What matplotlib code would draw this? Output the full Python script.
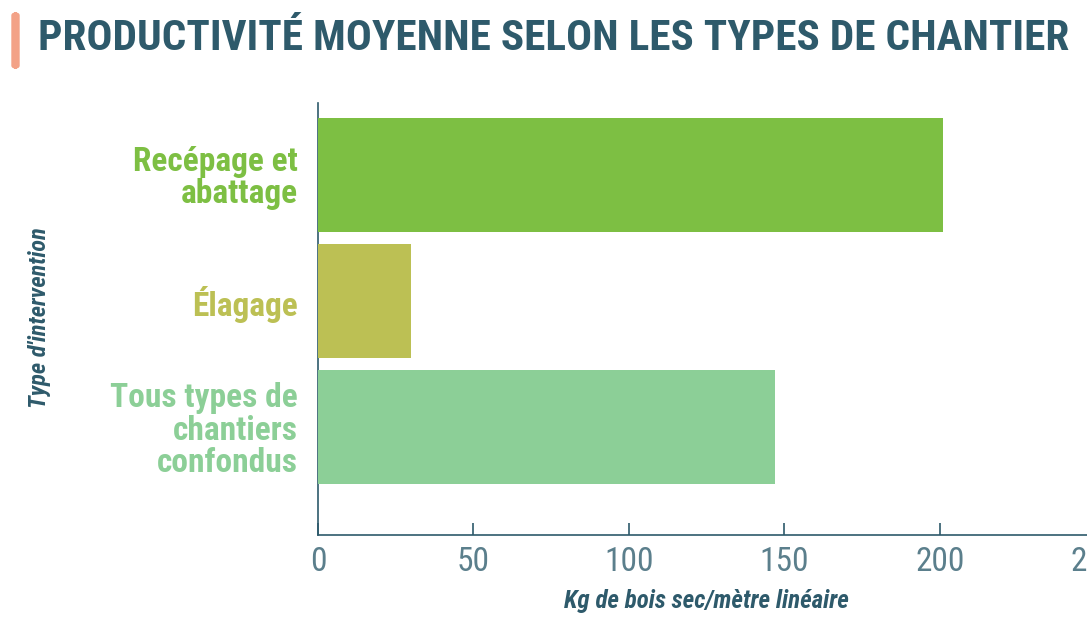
import matplotlib
matplotlib.use("Agg")
import matplotlib.pyplot as plt
from matplotlib import font_manager as fm
from matplotlib.patches import FancyBboxPatch

categories = ["Recépage et\nabattage", "Élagage", "Tous types de\nchantiers\nconfondus"]
values = [201, 30, 147]
colors = ["#7dbf43", "#bcc054", "#8ccf97"]
xticks = [0, 50, 100, 150, 200, 250]

title = "PRODUCTIVITÉ MOYENNE SELON LES TYPES DE CHANTIER"
dark = "#2e5a6b"
tickcol = "#5b7f8c"

# look for a narrow face, fall back to DejaVu condensed stretch
names = {f.name for f in fm.fontManager.ttflist}
narrow_fam = "DejaVu Sans"
for cand in ["Roboto Condensed", "Liberation Sans Narrow", "Open Sans Condensed",
             "Noto Sans Condensed", "DejaVu Sans Condensed", "Noto Sans Display"]:
    if cand in names:
        narrow_fam = cand
        break
font = dict(family=[narrow_fam, "DejaVu Sans"], stretch="condensed")

fig = plt.figure(figsize=(10.87, 6.2), dpi=100)
ax = fig.add_axes([318 / 1087, 1 - 535 / 620, 777.5 / 1087, 432 / 620])

pos = list(range(len(categories)))
ax.barh(pos, values, height=0.9, color=colors, zorder=3)
ax.set_ylim(2.857, -0.571)
ax.set_xlim(0, 250)

ax.set_yticks(pos)
ax.set_yticklabels(categories, fontweight="bold", fontsize=24, linespacing=1.0, **font)
for lbl, c in zip(ax.get_yticklabels(), colors):
    lbl.set_color(c)
ax.tick_params(axis="y", length=0, pad=14.5)

ax.set_xticks(xticks)
ax.set_xticklabels([str(t) for t in xticks], fontsize=24, color=tickcol, **font)
ax.tick_params(axis="x", direction="in", length=9, width=1.2, color=dark, pad=8)

for s in ["top", "right"]:
    ax.spines[s].set_visible(False)
for s in ["left", "bottom"]:
    ax.spines[s].set_color(dark)
    ax.spines[s].set_linewidth(1.2)

ax.set_xlabel("Kg de bois sec/mètre linéaire", fontweight="bold", style="italic",
              fontsize=18, color=dark, labelpad=8, **font)
fig.text(40 / 1087, 1 - 318 / 620, "Type d'intervention", fontweight="bold",
         style="italic", fontsize=17.5, color=dark, rotation=90, ha="center", va="center",
         **font)

t = fig.text(38 / 1087, 1 - 38 / 620, title, fontweight="heavy", fontsize=40,
             color=dark, ha="left", va="center", **font)
# shrink the title so it fits the same width as in the reference
fig.canvas.draw()
w = t.get_window_extent().width
if w > 1027:
    t.set_fontsize(40 * 1027 / w)

fig.patches.append(FancyBboxPatch((12 / 1087, 1 - 68 / 620), 7 / 1087, 55 / 620,
                                  boxstyle="round,pad=0,rounding_size=0.004",
                                  transform=fig.transFigure, color="#f3a287"))

fig.savefig("out.png", dpi=100)
